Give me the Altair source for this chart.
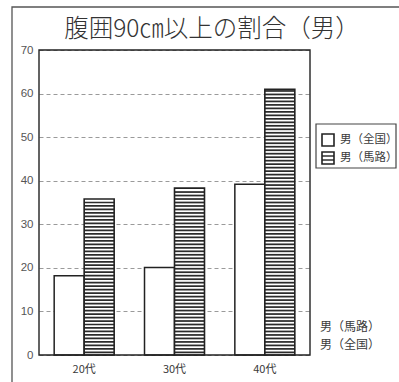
import altair as alt
import numpy as np
import pandas as pd

# ---- data -------------------------------------------------------------
ages = ["20代", "30代", "40代"]
series = ["全国", "馬路"]
national = [18.2, 20.1, 39.2]   # 男（全国）
umaji = [35.8, 38.3, 61.0]      # 男（馬路）
y_ticks = [0, 10, 20, 30, 40, 50, 60, 70]
legend_labels = ["男（全国）", "男（馬路）"]
note_labels = ["男（馬路）", "男（全国）"]
title_text = "腹囲90㎝以上の割合（男）"

# ---- layout / style ---------------------------------------------------
W, H = 271, 305
JP = "Noto Sans CJK JP"
NUM = "Liberation Sans"
INK = "#222222"
TXT = "#3a3a3a"
STRIPE_STEP = 0.8     # spacing of hatch lines, in axis units
STRIPE_THICK = 0.40   # thickness of a hatch line, in axis units

bars = pd.DataFrame(
    [{"age": a, "series": series[0], "value": v} for a, v in zip(ages, national)]
    + [{"age": a, "series": series[1], "value": v} for a, v in zip(ages, umaji)]
)
plain = bars[bars["series"] == series[0]]
hatched = bars[bars["series"] == series[1]]

# horizontal hatch lines filling each 馬路 bar
stripe_rows = []
for a, v in zip(ages, umaji):
    for lo in np.arange(STRIPE_STEP * 0.5, v - 0.5, STRIPE_STEP):
        stripe_rows.append({"age": a, "series": series[1], "lo": lo, "hi": lo + STRIPE_THICK})
stripes = pd.DataFrame(stripe_rows)

x_enc = alt.X(
    "age:N",
    sort=ages,
    scale=alt.Scale(domain=ages, paddingInner=0.336, paddingOuter=0.168),
    axis=alt.Axis(
        title=None, labelAngle=0, ticks=False, domain=False, labelPadding=8,
        labelFont=JP, labelFontSize=11, labelColor=TXT,
    ),
)
xo_enc = alt.XOffset("series:N", scale=alt.Scale(domain=series, paddingInner=0, paddingOuter=0))
y_scale = alt.Scale(domain=[0, 70], nice=False)
y_enc = alt.Y(
    "value:Q",
    scale=y_scale,
    axis=alt.Axis(
        title=None, values=y_ticks, grid=True, gridDash=[4, 3], gridColor="#9a9a9a",
        gridWidth=1, domain=False, ticks=False, labelPadding=6,
        labelFont=NUM, labelFontSize=11.5, labelColor="#555555",
    ),
)

plain_bars = alt.Chart(plain).mark_bar(fill="white", stroke=INK, strokeWidth=1.5).encode(
    x=x_enc, xOffset=xo_enc, y=y_enc
)
hatched_base = alt.Chart(hatched).mark_bar(fill="white", strokeWidth=0).encode(
    x=x_enc, xOffset=xo_enc, y=alt.Y("value:Q", scale=y_scale)
)
hatch_lines = alt.Chart(stripes).mark_bar(fill="#2b2b2b", strokeWidth=0).encode(
    x=x_enc, xOffset=xo_enc,
    y=alt.Y("lo:Q", scale=y_scale), y2="hi:Q",
)
hatched_outline = alt.Chart(hatched).mark_bar(
    fill="transparent", stroke=INK, strokeWidth=1.6
).encode(x=x_enc, xOffset=xo_enc, y=alt.Y("value:Q", scale=y_scale))

one = pd.DataFrame({"k": [0]})

# plot frame
plot_frame = alt.Chart(one).mark_rect(fill="transparent", stroke=INK, strokeWidth=1.4).encode(
    x=alt.value(0), x2=alt.value(W), y=alt.value(0), y2=alt.value(H)
)
# outer frame of the figure
outer_frame = alt.Chart(one).mark_rect(fill="transparent", stroke="#555555", strokeWidth=1.3).encode(
    x=alt.value(-27), x2=alt.value(380), y=alt.value(-43), y2=alt.value(360)
)

title = alt.Chart(one).mark_text(
    font=JP, fontSize=24.5, fontWeight=300, color="#333333", align="center", baseline="middle"
).encode(x=alt.value(173), y=alt.value(-20), text=alt.value(title_text))

# legend
legend_box = alt.Chart(one).mark_rect(fill="white", stroke="#444444", strokeWidth=1.2).encode(
    x=alt.value(277), x2=alt.value(357), y=alt.value(74), y2=alt.value(118)
)
legend_sym = []
for i in range(2):
    top = 84 + 18 * i
    legend_sym.append(
        alt.Chart(one).mark_rect(fill="white", stroke=INK, strokeWidth=1.6).encode(
            x=alt.value(283), x2=alt.value(295), y=alt.value(top), y2=alt.value(top + 12)
        )
    )
    legend_sym.append(
        alt.Chart(one).mark_text(
            font=JP, fontSize=11.5, color=TXT, align="left", baseline="middle"
        ).encode(x=alt.value(301), y=alt.value(top + 6), text=alt.value(legend_labels[i]))
    )
for yy in (106, 110):
    legend_sym.append(
        alt.Chart(one).mark_rule(stroke=INK, strokeWidth=1.4).encode(
            x=alt.value(283), x2=alt.value(295), y=alt.value(yy)
        )
    )

notes = [
    alt.Chart(one).mark_text(
        font=JP, fontSize=12, color=TXT, align="left", baseline="middle"
    ).encode(x=alt.value(281), y=alt.value(277 + 18 * i), text=alt.value(lbl))
    for i, lbl in enumerate(note_labels)
]

chart = alt.layer(
    outer_frame,
    plain_bars,
    hatched_base,
    hatch_lines,
    hatched_outline,
    plot_frame,
    title,
    legend_box,
    *legend_sym,
    *notes,
).properties(
    width=W,
    height=H,
    autosize=alt.AutoSizeParams(type="none"),
    padding={"left": 39, "top": 50, "right": 89, "bottom": 27},
    background="white",
).configure_view(stroke="transparent")

chart.save("out.html", embed_options={"renderer": "svg", "actions": False})
